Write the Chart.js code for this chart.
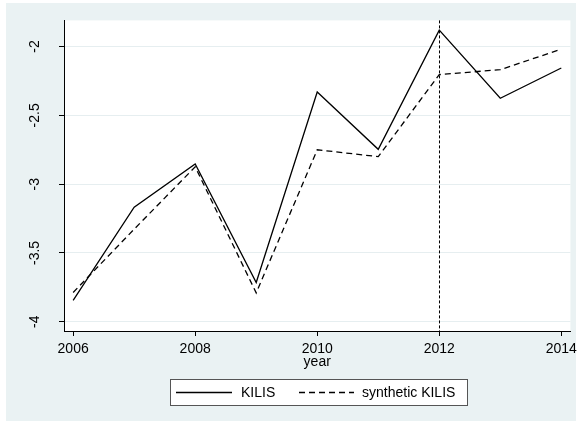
<!DOCTYPE html>
<html>
<head>
<meta charset="utf-8">
<script src="https://cdn.jsdelivr.net/npm/chart.js@4.4.1/dist/chart.umd.min.js"></script>
<style>
  html, body { margin: 0; padding: 0; background: #fff; }
  #wrap { width: 582px; height: 426px; }
</style>
</head>
<body>
<div id="wrap"><canvas id="kilisChart" width="582" height="426"></canvas></div>
<script>
const years = [2006, 2007, 2008, 2009, 2010, 2011, 2012, 2013, 2014];
const kilis = [-3.844, -3.167, -2.853, -3.715, -2.330, -2.747, -1.881, -2.376, -2.156];
const syntheticKilis = [-3.787, -3.327, -2.874, -3.790, -2.750, -2.800, -2.204, -2.168, -2.019];
const xTicks = [2006, 2008, 2010, 2012, 2014];
const yTicks = [-4, -3.5, -3, -2.5, -2];
const treatmentYear = 2012;

const FONT = 'Liberation Sans, Arial, sans-serif';
const BG = '#eaf2f3';

// background, plot area, treatment line and the boxed legend
const stataLook = {
    id: 'stataLook',
    beforeDraw(chart) {
        let ctx = chart.ctx;
        let a = chart.chartArea;
        ctx.save();
        ctx.fillStyle = '#ffffff';
        ctx.fillRect(0, 0, chart.width, chart.height);
        ctx.fillStyle = BG;
        ctx.fillRect(6, 3, 570, 418);
        ctx.fillStyle = '#ffffff';
        ctx.fillRect(a.left, a.top, a.right - a.left, a.bottom - a.top);
        ctx.restore();
    },
    afterDatasetsDraw(chart) {
        let ctx = chart.ctx;
        let a = chart.chartArea;
        let x = Math.round(chart.scales.x.getPixelForValue(treatmentYear)) + 0.5;
        ctx.save();
        ctx.strokeStyle = '#000';
        ctx.lineWidth = 1;
        ctx.setLineDash([3, 2]);
        ctx.beginPath();
        ctx.moveTo(x, a.top);
        ctx.lineTo(x, a.bottom);
        ctx.stroke();
        ctx.restore();
    },
    afterDraw(chart) {
        let ctx = chart.ctx;
        ctx.save();
        ctx.fillStyle = '#fff';
        ctx.fillRect(170, 379, 298, 27);
        ctx.strokeStyle = '#555';
        ctx.lineWidth = 1;
        ctx.strokeRect(170.5, 379.5, 297, 26);

        let items = [
            { ds: chart.data.datasets[0], x0: 176, x1: 232, tx: 241 },
            { ds: chart.data.datasets[1], x0: 299, x1: 354, tx: 362 }
        ];
        items.forEach(it => {
            ctx.strokeStyle = it.ds.borderColor;
            ctx.lineWidth = it.ds.borderWidth;
            ctx.setLineDash(it.ds.borderDash || []);
            ctx.beginPath();
            ctx.moveTo(it.x0, 392.5);
            ctx.lineTo(it.x1, 392.5);
            ctx.stroke();
            ctx.setLineDash([]);
            ctx.fillStyle = '#000';
            ctx.font = '14px ' + FONT;
            ctx.textBaseline = 'middle';
            ctx.textAlign = 'left';
            ctx.fillText(it.ds.label, it.tx, 393);
        });
        ctx.restore();
    }
};

new Chart(document.getElementById('kilisChart').getContext('2d'), {
    type: 'line',
    data: {
        datasets: [{
            label: 'KILIS',
            data: years.map((y, i) => ({ x: y, y: kilis[i] })),
            borderColor: '#000',
            borderWidth: 1.3,
            pointRadius: 0,
            tension: 0,
            fill: false
        }, {
            label: 'synthetic KILIS',
            data: years.map((y, i) => ({ x: y, y: syntheticKilis[i] })),
            borderColor: '#000',
            borderWidth: 1.3,
            borderDash: [6, 4],
            pointRadius: 0,
            tension: 0,
            fill: false
        }]
    },
    options: {
        responsive: false,
        animation: false,
        layout: { padding: { left: 0, top: 17, right: 7, bottom: 55 } },
        plugins: {
            legend: { display: false },
            tooltip: { enabled: false }
        },
        scales: {
            x: {
                type: 'linear',
                min: 2005.85,
                max: 2014.15,
                afterBuildTicks: scale => { scale.ticks = xTicks.map(v => ({ value: v })); },
                afterFit: scale => { scale.height = 40; },
                border: { color: '#000', width: 1 },
                grid: { drawOnChartArea: false, tickLength: 5, tickColor: '#000' },
                ticks: {
                    color: '#000',
                    font: { family: FONT, size: 14 },
                    padding: 5,
                    maxRotation: 0,
                    autoSkip: false,
                    callback: v => String(v)
                },
                title: {
                    display: true,
                    text: 'year',
                    color: '#000',
                    font: { family: FONT, size: 14 },
                    padding: { top: -4, bottom: 0 }
                }
            },
            y: {
                min: -4.067,
                max: -1.81,
                afterBuildTicks: scale => { scale.ticks = yTicks.map(v => ({ value: v })); },
                afterFit: scale => { scale.width = 64; },
                border: { color: '#000', width: 1 },
                grid: { color: '#e6eef0', lineWidth: 1, tickLength: 5, tickColor: '#000' },
                ticks: {
                    color: '#000',
                    font: { family: FONT, size: 14 },
                    minRotation: 90,
                    maxRotation: 90,
                    crossAlign: 'center',
                    padding: 12,
                    autoSkip: false,
                    callback: v => String(v)
                }
            }
        }
    },
    plugins: [stataLook]
});
</script>
</body>
</html>
